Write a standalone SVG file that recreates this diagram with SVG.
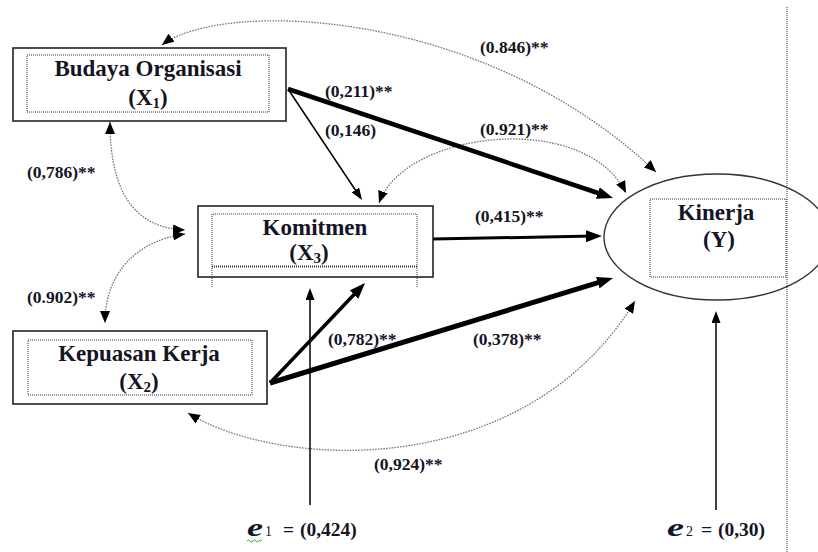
<svg xmlns="http://www.w3.org/2000/svg" width="818" height="552" viewBox="0 0 818 552">
<style>
text{font-family:"Liberation Serif","Times New Roman",serif;font-weight:bold;fill:#141424}
.node{font-size:23px}
.lbl{font-size:17.5px}
.err{font-size:19.5px}
.box{fill:#fff;stroke:#222;stroke-width:1.6}
.dot{fill:none;stroke:#333;stroke-width:1;stroke-dasharray:1 1}
.curve{fill:none;stroke:#777;stroke-width:1.3;stroke-dasharray:1.6 1.2;marker-start:url(#mc);marker-end:url(#mc)}
.ln{fill:none;stroke:#000}
</style>
<defs>
<marker id="ms" markerUnits="userSpaceOnUse" markerWidth="12" markerHeight="9" refX="6" refY="4.5" orient="auto"><path d="M0,0 L12,4.5 L0,9 z" fill="#000"/></marker>
<marker id="ml" markerUnits="userSpaceOnUse" markerWidth="16" markerHeight="12" refX="8" refY="6" orient="auto"><path d="M0,0 L16,6 L0,12 z" fill="#000"/></marker>
<marker id="mc" markerUnits="userSpaceOnUse" markerWidth="12" markerHeight="10" refX="12" refY="5" orient="auto-start-reverse"><path d="M0,0 L12,5 L0,10 z" fill="#000"/></marker>
</defs>
<rect width="818" height="552" fill="#fff"/>
<g id="connectors">
<path class="curve" d="M162,45 C220,0 480,5 656,172"/>
<path class="curve" d="M110,122 C110,200 140,228 185,230"/>
<path class="curve" d="M185,234 C140,240 105,270 105,323"/>
<path class="curve" d="M379,203 C405,130 585,110 626,193"/>
<path class="curve" d="M188,413 C280,470 525,482 635,301"/>
<line class="ln" x1="288" y1="89" x2="605.4" y2="195.5" stroke-width="4.5" marker-end="url(#ml)"/>
<line class="ln" x1="288" y1="89" x2="358.7" y2="195" stroke-width="1.5" marker-end="url(#ms)"/>
<line class="ln" x1="433" y1="239" x2="594" y2="236.1" stroke-width="3" marker-end="url(#ml)"/>
<line class="ln" x1="270" y1="383" x2="359.5" y2="288.8" stroke-width="3.5" marker-end="url(#ml)"/>
<line class="ln" x1="270" y1="383" x2="605.4" y2="280.3" stroke-width="5" marker-end="url(#ml)"/>
<line class="ln" x1="310" y1="505" x2="310" y2="294" stroke-width="1.5" marker-end="url(#ms)"/>
<line class="ln" x1="716" y1="510" x2="716" y2="317" stroke-width="1.5" marker-end="url(#ms)"/>
<text class="lbl" x="480" y="53">(0.846)**</text>
<text class="lbl" x="325" y="97">(0,211)**</text>
<text class="lbl" x="325" y="136">(0,146)</text>
<text class="lbl" x="480" y="135">(0.921)**</text>
<text class="lbl" x="27" y="178">(0,786)**</text>
<text class="lbl" x="475" y="222">(0,415)**</text>
<text class="lbl" x="27" y="303">(0.902)**</text>
<text class="lbl" x="328" y="345">(0,782)**</text>
<text class="lbl" x="473" y="345">(0,378)**</text>
<text class="lbl" x="374" y="470">(0,924)**</text>
</g>
<g id="budaya">
<rect class="box" x="13" y="48" width="273" height="73"/>
<rect class="dot" x="27" y="55" width="242" height="57"/>
<text class="node" x="148" y="76" text-anchor="middle">Budaya Organisasi</text>
<text class="node" x="148" y="105" text-anchor="middle">(X<tspan font-size="15" dy="3">1</tspan><tspan dy="-3">)</tspan></text>
</g>
<g id="komitmen">
<rect class="box" x="198" y="206" width="235" height="71"/>
<path class="dot" d="M212,287 V214 H417 V287"/>
<line x1="212" y1="266.5" x2="417" y2="266.5" stroke="#333" stroke-width="2" stroke-dasharray="1 1"/>
<text class="node" x="315" y="235" text-anchor="middle">Komitmen</text>
<text class="node" x="309" y="260" text-anchor="middle">(X<tspan font-size="15" dy="3">3</tspan><tspan dy="-3">)</tspan></text>
</g>
<g id="kepuasan">
<rect class="box" x="13" y="331" width="254" height="73"/>
<rect class="dot" x="28" y="340" width="224" height="55"/>
<text class="node" x="139" y="361" text-anchor="middle">Kepuasan Kerja</text>
<text class="node" x="139" y="389" text-anchor="middle">(X<tspan font-size="15" dy="3">2</tspan><tspan dy="-3">)</tspan></text>
</g>
<g id="kinerja">
<ellipse cx="717" cy="237" rx="113" ry="63" fill="#fff" stroke="#333" stroke-width="1.4"/>
<rect class="dot" x="650" y="199" width="136" height="78"/>
<line x1="787" y1="7" x2="787" y2="552" stroke="#333" stroke-width="1" stroke-dasharray="1 1"/>
<text class="node" x="716" y="220" text-anchor="middle">Kinerja</text>
<text class="node" x="719" y="247" text-anchor="middle">(Y)</text>
</g>
<g id="e1">
<text class="err" y="536"><tspan x="247" font-size="26" font-style="italic" textLength="16" lengthAdjust="spacingAndGlyphs">e</tspan><tspan x="265" font-size="14" font-weight="normal">1</tspan><tspan x="283">=</tspan><tspan x="300">(0,424)</tspan></text>
<path d="M247,541 q1.5,-2 3,0 t3,0 t3,0 t3,0 t3,0" fill="none" stroke="#3a3" stroke-width="1"/>
</g>
<g id="e2">
<text class="err" y="536"><tspan x="667" font-size="26" font-style="italic" textLength="17" lengthAdjust="spacingAndGlyphs">e</tspan><tspan x="686" font-size="14" font-weight="normal">2</tspan><tspan x="701">=</tspan><tspan x="718">(0,30)</tspan></text>
</g>
</svg>
